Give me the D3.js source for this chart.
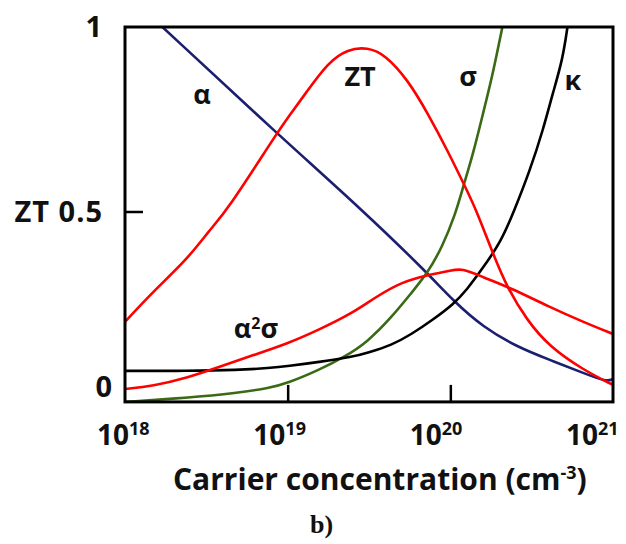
<!DOCTYPE html>
<html>
<head>
<meta charset="utf-8">
<script src="https://cdn.jsdelivr.net/npm/d3@7"></script>
<style>
  body { margin: 0; background: #fff; }
  text { font-family: "Open Sans", "Noto Sans", sans-serif; font-weight: bold; fill: #111; }
</style>
</head>
<body>
<svg id="chart" width="626" height="544"></svg>
<script>
// carrier concentration exponents (log10 n) and values
const alphaN = [18.23, 18.93, 19.46, 19.86, 20.02, 20.2, 20.41, 20.61, 20.82, 20.96, 21.0];
const alphaV = [1.0, 0.713, 0.504, 0.333, 0.257, 0.187, 0.133, 0.098, 0.062, 0.038, 0.046];

const ztN = [18.0, 18.17, 18.38, 18.52, 18.63, 18.93, 19.01, 19.11, 19.25, 19.37, 19.49, 19.6, 19.74, 19.86, 19.99, 20.08, 20.16, 20.26, 20.35, 20.47, 20.61, 20.82, 21.0];
const ztV = [0.201, 0.282, 0.369, 0.45, 0.504, 0.71, 0.76, 0.82, 0.905, 0.94, 0.945, 0.925, 0.856, 0.767, 0.659, 0.577, 0.504, 0.388, 0.293, 0.206, 0.133, 0.07, 0.03];

const pfN = [18.0, 18.17, 18.38, 18.58, 18.79, 19.0, 19.19, 19.4, 19.54, 19.7, 19.86, 20.0, 20.07, 20.2, 20.37, 20.61, 20.82, 21.0];
const pfV = [0.019, 0.027, 0.049, 0.079, 0.111, 0.142, 0.179, 0.225, 0.268, 0.309, 0.328, 0.339, 0.347, 0.322, 0.293, 0.241, 0.2, 0.168];

const sigmaN = [18.0, 18.38, 18.69, 18.89, 19.0, 19.19, 19.35, 19.49, 19.64, 19.76, 19.86, 19.95, 20.03, 20.08, 20.14, 20.2, 20.26, 20.32];
const sigmaV = [-0.016, -0.005, 0.008, 0.022, 0.035, 0.07, 0.106, 0.146, 0.214, 0.279, 0.333, 0.404, 0.491, 0.569, 0.656, 0.764, 0.87, 1.0];

const kappaN = [18.0, 18.38, 18.69, 18.89, 19.0, 19.19, 19.4, 19.49, 19.64, 19.76, 19.89, 20.02, 20.1, 20.2, 20.31, 20.39, 20.49, 20.57, 20.63, 20.69, 20.72];
const kappaV = [0.068, 0.068, 0.07, 0.076, 0.081, 0.092, 0.106, 0.117, 0.138, 0.167, 0.206, 0.249, 0.287, 0.347, 0.417, 0.499, 0.612, 0.721, 0.821, 0.911, 1.0];

const xTickExp = [18, 19, 20, 21];
const yTickVals = [1, 0.5, 0];
const yTickLabels = ["1", "ZT 0.5", "0"];

const svg = d3.select("#chart");
const plotLeft = 125, plotRight = 613, plotTop = 27, zeroY = 396;

const x = d3.scaleLog().domain([1e18, 1e21]).range([plotLeft, plotRight]);
const y = d3.scaleLinear().domain([0, 1]).range([zeroY, plotTop]);
const plotBottom = y(-0.016);
// tick labels sit slightly left of their ticks in the original
const xLabel = d3.scaleLog().domain([1e18, 1e21]).range([97, 566]);

svg.append("clipPath").attr("id", "plot")
  .append("rect")
  .attr("x", plotLeft).attr("y", plotTop)
  .attr("width", plotRight - plotLeft).attr("height", plotBottom - plotTop);

const line = d3.line()
  .x(d => x(Math.pow(10, d[0])))
  .y(d => y(d[1]))
  .curve(d3.curveBasis);

const series = [
  { n: alphaN, v: alphaV, color: "#1c1f6e" },
  { n: sigmaN, v: sigmaV, color: "#3a6a14" },
  { n: kappaN, v: kappaV, color: "#000" },
  { n: pfN, v: pfV, color: "#ff0000" },
  { n: ztN, v: ztV, color: "#ff0000" }
];

const g = svg.append("g").attr("clip-path", "url(#plot)");
g.selectAll("path")
  .data(series)
  .join("path")
  .attr("d", s => line(s.n.map((n, i) => [n, s.v[i]])))
  .attr("fill", "none")
  .attr("stroke", s => s.color)
  .attr("stroke-width", 2.6);

// inward ticks
svg.append("g")
  .attr("transform", `translate(0,${plotBottom})`)
  .call(d3.axisBottom(x).tickValues([1e19, 1e20]).tickSize(-17).tickFormat(""))
  .call(a => a.select(".domain").remove())
  .selectAll("line").attr("stroke", "#000").attr("stroke-width", 2.5);

svg.append("g")
  .attr("transform", `translate(${plotLeft},0)`)
  .call(d3.axisLeft(y).tickValues([0.5]).tickSize(-18).tickFormat(""))
  .call(a => a.select(".domain").remove())
  .selectAll("line").attr("stroke", "#000").attr("stroke-width", 2.5);

// frame
svg.append("rect")
  .attr("x", plotLeft).attr("y", plotTop)
  .attr("width", plotRight - plotLeft).attr("height", plotBottom - plotTop)
  .attr("fill", "none").attr("stroke", "#000").attr("stroke-width", 3);

// x tick labels
const xl = svg.append("g").selectAll("text")
  .data(xTickExp)
  .join("text")
  .attr("x", e => xLabel(Math.pow(10, e)))
  .attr("y", 445)
  .attr("font-size", 28);
xl.append("tspan").text("10");
xl.append("tspan").attr("font-size", 18).attr("dy", -10).text(e => e);

// y tick labels
svg.append("g").selectAll("text")
  .data(yTickVals)
  .join("text")
  .attr("x", (d, i) => i === 2 ? 113 : 103)
  .attr("y", d => d === 0 ? y(d) - 9 : y(d))
  .attr("dy", "0.35em")
  .attr("text-anchor", "end")
  .attr("font-size", 29)
  .attr("letter-spacing", 1)
  .text((d, i) => yTickLabels[i]);

// curve labels
const ann = [
  { n: 18.473, v: 0.816, t: "α" },
  { n: 19.445, v: 0.865, t: "ZT" },
  { n: 20.109, v: 0.865, t: "σ" },
  { n: 20.754, v: 0.856, t: "κ" }
];
svg.append("g").selectAll("text")
  .data(ann)
  .join("text")
  .attr("x", d => x(Math.pow(10, d.n)))
  .attr("y", d => y(d.v))
  .attr("dy", "0.35em")
  .attr("text-anchor", "middle")
  .attr("font-size", 27)
  .text(d => d.t);

const pfLabel = svg.append("text")
  .attr("x", x(Math.pow(10, 18.805)))
  .attr("y", y(0.184))
  .attr("dy", "0.35em")
  .attr("text-anchor", "middle")
  .attr("font-size", 27);
pfLabel.append("tspan").text("α");
pfLabel.append("tspan").attr("font-size", 16).attr("dy", -9).text("2");
pfLabel.append("tspan").attr("dy", 9).text("σ");

// axis title
const title = svg.append("text")
  .attr("x", 173)
  .attr("y", 490)
  .attr("font-size", 30);
title.append("tspan").text("Carrier concentration (cm");
title.append("tspan").attr("font-size", 18).attr("dy", -11).text("-3");
title.append("tspan").attr("dy", 11).text(")");

svg.append("text")
  .attr("x", 310)
  .attr("y", 533)
  .attr("font-size", 26)
  .style("font-family", "'Liberation Serif', serif")
  .text("b)");
</script>
</body>
</html>
